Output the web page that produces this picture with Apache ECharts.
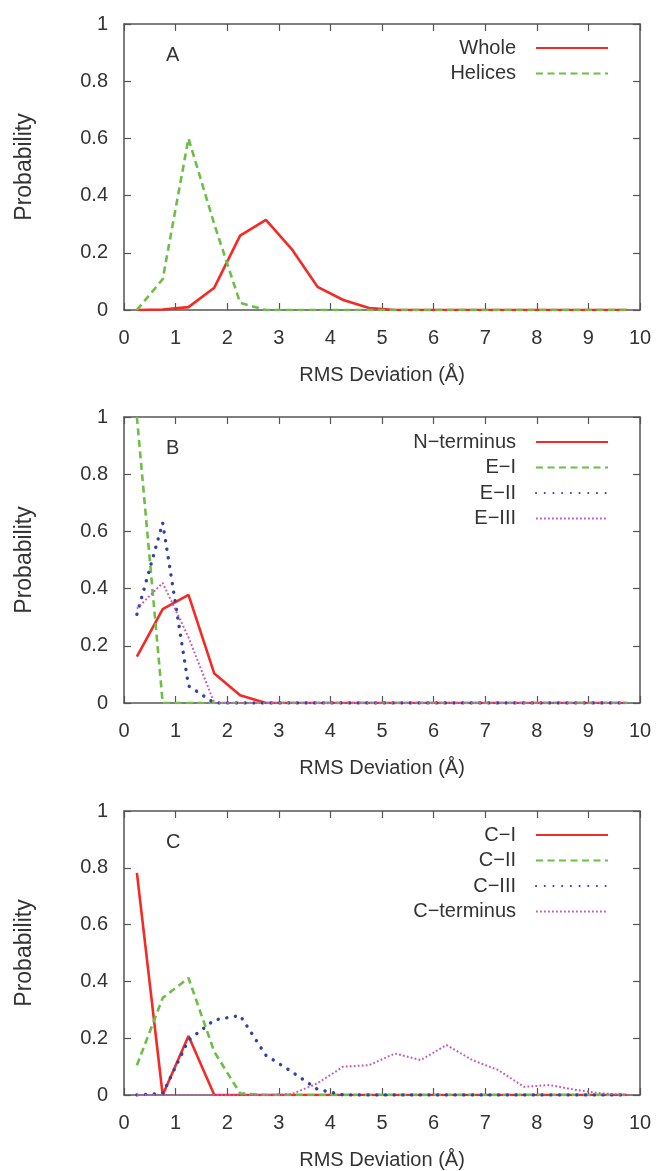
<!DOCTYPE html>
<html>
<head>
<meta charset="utf-8">
<script src="https://cdn.jsdelivr.net/npm/echarts@6/dist/echarts.min.js"></script>
<style>
  html, body { margin: 0; padding: 0; background: #fff; }
  #chart { width: 657px; height: 1171px; }
</style>
</head>
<body>
<div id="chart"></div>
<script>
// bin centres of the RMS deviation histogram (Å)
const rmsBins = [0.25, 0.75, 1.25, 1.75, 2.25, 2.75, 3.25, 3.75, 4.25, 4.75,
                 5.25, 5.75, 6.25, 6.75, 7.25, 7.75, 8.25, 8.75, 9.25, 9.75];

const xTicks = [0, 1, 2, 3, 4, 5, 6, 7, 8, 9, 10];
const yTicks = [0, 0.2, 0.4, 0.6, 0.8, 1];

// panel A
const wholeProb   = [0, 0.002, 0.01, 0.078, 0.26, 0.315, 0.213, 0.081, 0.035, 0.007,
                     0, 0, 0, 0, 0, 0, 0, 0, 0, 0];
const helicesProb = [0, 0.108, 0.6, 0.3, 0.025, 0, 0, 0, 0, 0,
                     0, 0, 0, 0, 0, 0, 0, 0, 0, 0];

// panel B
const nTermProb = [0.162, 0.328, 0.378, 0.103, 0.027, 0, 0, 0, 0, 0,
                   0, 0, 0, 0, 0, 0, 0, 0, 0, 0];
const e1Prob    = [1.0, 0, 0, 0, 0, 0, 0, 0, 0, 0,
                   0, 0, 0, 0, 0, 0, 0, 0, 0, 0];
const e2Prob    = [0.31, 0.63, 0.06, 0, 0, 0, 0, 0, 0, 0,
                   0, 0, 0, 0, 0, 0, 0, 0, 0, 0];
const e3Prob    = [0.33, 0.42, 0.23, 0, 0, 0, 0, 0, 0, 0,
                   0, 0, 0, 0, 0, 0, 0, 0, 0, 0];

// panel C
const c1Prob    = [0.782, 0, 0.208, 0, 0, 0, 0, 0, 0, 0,
                   0, 0, 0, 0, 0, 0, 0, 0, 0, 0];
const c2Prob    = [0.105, 0.342, 0.412, 0.152, 0.006, 0, 0, 0, 0, 0,
                   0, 0, 0, 0, 0, 0, 0, 0, 0, 0];
const c3Prob    = [0, 0.005, 0.193, 0.264, 0.28, 0.14, 0.082, 0.02, 0, 0,
                   0, 0, 0, 0, 0, 0, 0, 0, 0, 0];
const cTermProb = [0, 0, 0, 0, 0, 0, 0.003, 0.041, 0.1, 0.105,
                   0.146, 0.123, 0.176, 0.123, 0.088, 0.029, 0.035, 0.018, 0.006, 0];

const panelLetters = ['A', 'B', 'C'];
const panelSeries = [
  [['Whole', wholeProb, 'solid'], ['Helices', helicesProb, 'dashed']],
  [['N\u2212terminus', nTermProb, 'solid'], ['E\u2212I', e1Prob, 'dashed'],
   ['E\u2212II', e2Prob, 'dotted'], ['E\u2212III', e3Prob, 'fine']],
  [['C\u2212I', c1Prob, 'solid'], ['C\u2212II', c2Prob, 'dashed'],
   ['C\u2212III', c3Prob, 'dotted'], ['C\u2212terminus', cTermProb, 'fine']]
];

const FONT = "'Liberation Sans', Arial, sans-serif";
const TXT = '#333';
const FRAME = '#555';

const styles = {
  solid:  { color: '#f52a25', width: 2.6, type: 'solid' },
  dashed: { color: '#6cbf45', width: 2.6, type: [7, 4.5] },
  dotted: { color: '#2f42a8', width: 3.4, type: [0.1, 8.6], cap: 'round' },
  fine:   { color: '#c45ab8', width: 2, type: [1.8, 2.2] }
};

const panelTops = [24, 417, 811];
const legendTops = [38, 432, 825];

const grids = [], xAxes = [], yAxes = [], series = [], legends = [], titles = [];

function pairs(ys) {
  return rmsBins.map((x, i) => [x, ys[i]]);
}

panelTops.forEach((top, p) => {
  grids.push({ left: 124, top: top, width: 516, height: 286 });

  const tick = { show: true, inside: true, length: 7, lineStyle: { color: FRAME, width: 1.2 } };
  const line = { show: true, onZero: false, lineStyle: { color: FRAME, width: 1.5 } };

  xAxes.push({
    type: 'value', gridIndex: p, position: 'bottom',
    min: xTicks[0], max: xTicks[xTicks.length - 1], interval: 1,
    axisLine: line, axisTick: tick, splitLine: { show: false },
    axisLabel: { color: TXT, fontSize: 20, fontFamily: FONT, margin: 18 },
    name: 'RMS Deviation (Å)', nameLocation: 'middle', nameGap: 55,
    nameTextStyle: { color: TXT, fontSize: 20, fontFamily: FONT }
  });
  xAxes.push({
    type: 'value', gridIndex: p, position: 'top',
    min: xTicks[0], max: xTicks[xTicks.length - 1], interval: 1,
    axisLine: line, axisTick: tick, splitLine: { show: false },
    axisLabel: { show: false }
  });
  yAxes.push({
    type: 'value', gridIndex: p, position: 'left',
    min: yTicks[0], max: yTicks[yTicks.length - 1], interval: 0.2,
    axisLine: line, axisTick: tick, splitLine: { show: false },
    axisLabel: { color: TXT, fontSize: 20, fontFamily: FONT, margin: 16 },
    name: 'Probability', nameLocation: 'middle', nameGap: 88,
    nameTextStyle: { color: TXT, fontSize: 23, fontFamily: FONT }
  });
  yAxes.push({
    type: 'value', gridIndex: p, position: 'right',
    min: yTicks[0], max: yTicks[yTicks.length - 1], interval: 0.2,
    axisLine: line, axisTick: tick, splitLine: { show: false },
    axisLabel: { show: false }
  });

  titles.push({
    text: panelLetters[p], left: 166, top: top + 21, padding: 0,
    textStyle: { color: TXT, fontSize: 20, fontWeight: 'normal', fontFamily: FONT }
  });

  const names = [];
  panelSeries[p].forEach(([name, ys, kind]) => {
    names.push(name);
    const st = styles[kind];
    series.push({
      name: name, type: 'line', xAxisIndex: 2 * p, yAxisIndex: 2 * p,
      data: pairs(ys), symbol: 'none', showSymbol: false,
      lineStyle: st, itemStyle: { color: st.color }
    });
  });

  legends.push({
    data: names, orient: 'vertical', align: 'right',
    right: 48, top: legendTops[p], padding: 0,
    itemWidth: 72, itemHeight: 20, itemGap: 5.5,
    selectedMode: false,
    itemStyle: { opacity: 0 },
    textStyle: { color: TXT, fontSize: 20, fontFamily: FONT, padding: [0, 15, 0, 0] }
  });
});

const chart = echarts.init(document.getElementById('chart'));
chart.setOption({
  backgroundColor: '#fff',
  animation: false,
  title: titles,
  legend: legends,
  grid: grids,
  xAxis: xAxes,
  yAxis: yAxes,
  series: series
});
</script>
</body>
</html>
